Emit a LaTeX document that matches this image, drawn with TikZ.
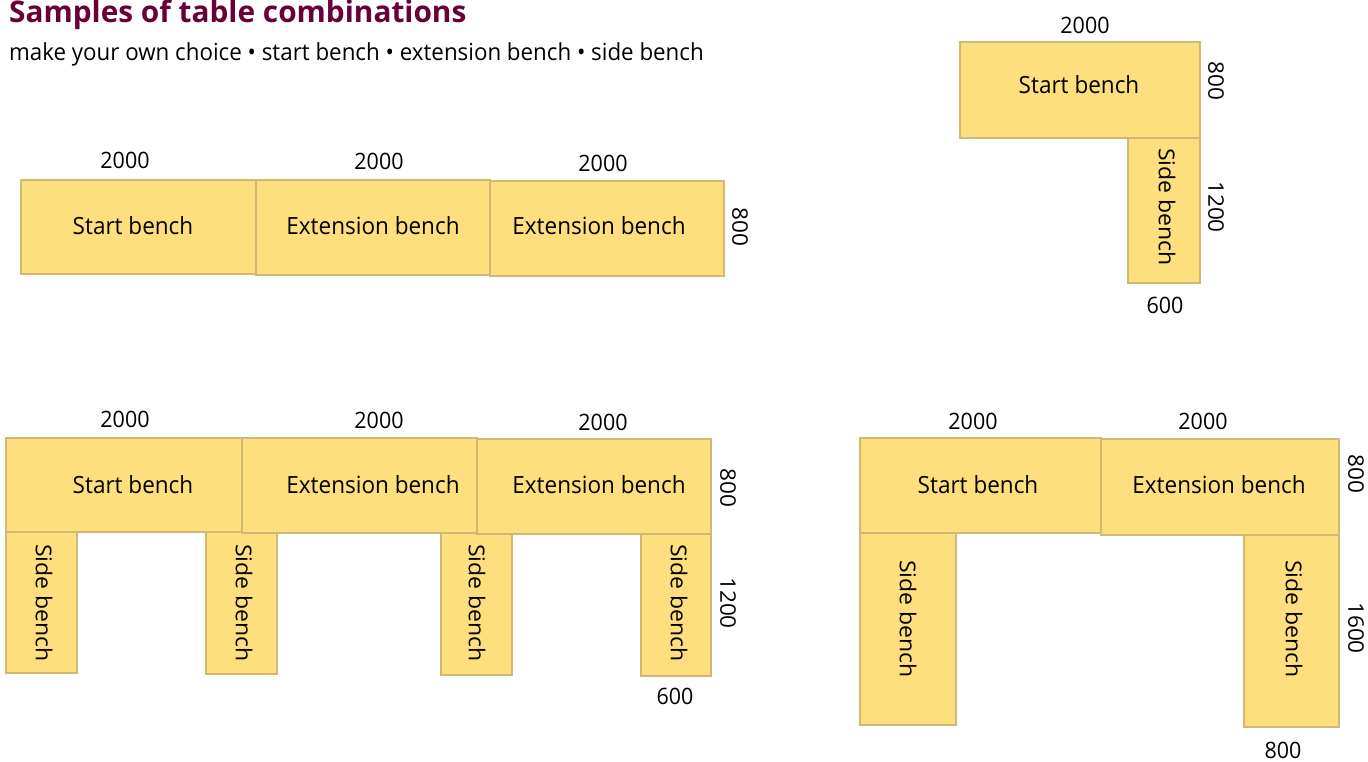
\documentclass[tikz,border=0pt]{standalone}
\usepackage{fontspec}
\setmainfont{Open Sans}
\definecolor{bench}{HTML}{FEDF7D}
\definecolor{benchedge}{HTML}{CFB975}
\definecolor{wine}{HTML}{6A0038}
\tikzset{
  x=1pt,y=-1pt,
  benchbox/.style={draw=benchedge,fill=bench,line width=1.3pt},
  lab/.style={font=\fontsize{23.7}{26}\selectfont,text=black,inner sep=0pt,anchor=center,xscale=.95},
  sidelab/.style={font=\fontsize{23}{26}\selectfont,text=black,inner sep=0pt,anchor=center,xscale=.95,rotate=-90},
  dim/.style={font=\fontsize{22.6}{26}\selectfont,text=black,inner sep=0pt,anchor=center,xscale=.95},
}
\begin{document}
\begin{tikzpicture}
\useasboundingbox (0,0) rectangle (1368,761);
\node[inner sep=0pt,anchor=west,font=\fontsize{29.8}{32}\selectfont\bfseries,text=wine] (title) at (9,15) {Samples of table combinations};
\node[inner sep=0pt,anchor=west,font=\fontsize{23.5}{26}\selectfont,xscale=.95] (sub) at (9,54) {make your own choice • start bench • extension bench • side bench};
% row 1
\draw[benchbox] (21,180) rectangle (256,274);
\draw[benchbox] (256,180) rectangle (490,275);
\draw[benchbox] (490,181) rectangle (724,276);
\node[lab] (a1) at (133,226) {Start bench};
\node[lab] (a2) at (373,226) {Extension bench};
\node[lab] (a3) at (599,226) {Extension bench};
\node[dim] (d1) at (125,160) {2000};
\node[dim] (d2) at (379,161) {2000};
\node[dim] (d3) at (603,163) {2000};
\node[dim,rotate=-90] (d4) at (740,227) {800};
% top right
\draw[benchbox] (1128,138) rectangle (1200,283);
\draw[benchbox] (960,42) rectangle (1200,138);
\node[lab] (b1) at (1079,85) {Start bench};
\node[sidelab] (b2) at (1167,207) {Side bench};
\node[dim] (b3) at (1085,25) {2000};
\node[dim,rotate=-90] (b4) at (1216,81) {800};
\node[dim,rotate=-90] (b5) at (1216,207) {1200};
\node[dim] (b6) at (1165,305) {600};
% bottom left
\draw[benchbox] (6,532) rectangle (77,673);
\draw[benchbox] (206,532) rectangle (277,674);
\draw[benchbox] (441,533) rectangle (512,675);
\draw[benchbox] (641,534) rectangle (711,676);
\draw[benchbox] (6,438) rectangle (242,532);
\draw[benchbox] (242,438) rectangle (477,533);
\draw[benchbox] (477,439) rectangle (711,534);
\node[lab] (c1) at (133,485) {Start bench};
\node[lab] (c2) at (373,485) {Extension bench};
\node[lab] (c3) at (599,485) {Extension bench};
\node[sidelab] (c4) at (44,603) {Side bench};
\node[sidelab] (c5) at (244,603) {Side bench};
\node[sidelab] (c6) at (477,603) {Side bench};
\node[sidelab] (c7) at (679,603) {Side bench};
\node[dim] (c8) at (125,419) {2000};
\node[dim] (c9) at (379,420) {2000};
\node[dim] (c10) at (603,422) {2000};
\node[dim,rotate=-90] (c11) at (728,488) {800};
\node[dim,rotate=-90] (c12) at (728,603) {1200};
\node[dim] (c13) at (675,696) {600};
% bottom right
\draw[benchbox] (860,533) rectangle (956,725);
\draw[benchbox] (1244,535) rectangle (1339,727);
\draw[benchbox] (860,438) rectangle (1101,533);
\draw[benchbox] (1101,439) rectangle (1339,535);
\node[lab] (e1) at (978,485) {Start bench};
\node[lab] (e2) at (1219,485) {Extension bench};
\node[sidelab] (e3) at (908,619) {Side bench};
\node[sidelab] (e4) at (1294,619) {Side bench};
\node[dim] (e5) at (973,421) {2000};
\node[dim] (e6) at (1203,421) {2000};
\node[dim,rotate=-90] (e7) at (1356,474) {800};
\node[dim,rotate=-90] (e8) at (1356,628) {1600};
\node[dim] (e9) at (1283,750) {800};
\end{tikzpicture}
\end{document}
